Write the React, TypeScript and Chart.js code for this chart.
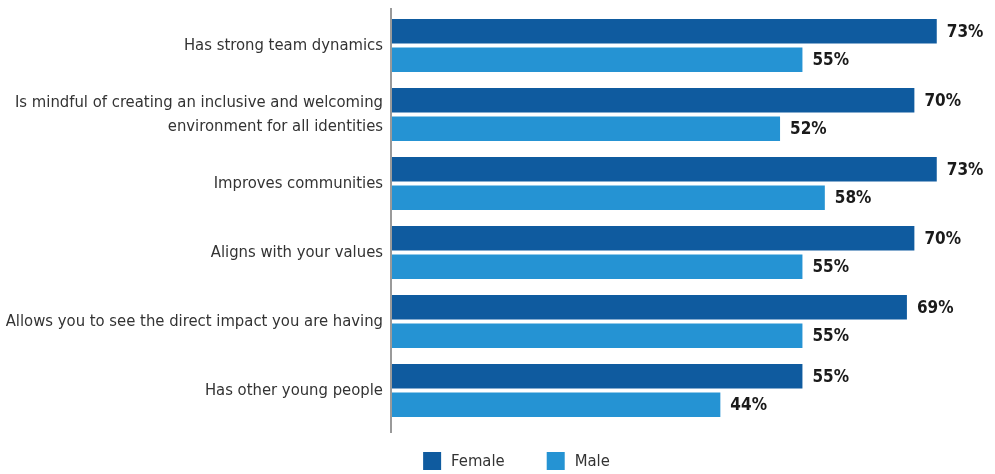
import React, { useEffect, useRef } from "react";
import { Chart, registerables } from "chart.js";

Chart.register(...registerables);

const categories: (string | string[])[] = [
  "Has strong team dynamics",
  ["Is mindful of creating an inclusive and welcoming", "environment for all identities"],
  "Improves communities",
  "Aligns with your values",
  "Allows you to see the direct impact you are having",
  "Has other young people",
];
const femaleValues = [73, 70, 73, 70, 69, 55];
const maleValues = [55, 52, 58, 55, 55, 44];
const seriesNames = ["Female", "Male"];
const seriesColors = ["#0f5b9f", "#2593d3"];

const FONT = "'DejaVu Sans Condensed', 'Liberation Sans', Arial, sans-serif";

// Bold percentage labels just past the end of each bar
const valueLabels = {
  id: "valueLabels",
  afterDatasetsDraw(chart: any) {
    const ctx = chart.ctx;
    ctx.save();
    ctx.font = `bold 17px ${FONT}`;
    ctx.fillStyle = "#1a1a1a";
    ctx.textBaseline = "middle";
    ctx.textAlign = "left";
    chart.data.datasets.forEach((ds: any, i: number) => {
      const meta = chart.getDatasetMeta(i);
      meta.data.forEach((bar: any, j: number) => {
        ctx.fillText(`${ds.data[j]}%`, bar.x + 10, bar.y + 1);
      });
    });
    ctx.restore();
  },
};

// Vertical axis rule on the left edge of the plot
const axisRule = {
  id: "axisRule",
  afterDatasetsDraw(chart: any) {
    const { ctx, chartArea } = chart;
    ctx.save();
    ctx.strokeStyle = "#9a9a9a";
    ctx.lineWidth = 2;
    ctx.beginPath();
    ctx.moveTo(chartArea.left - 1, chartArea.top - 3);
    ctx.lineTo(chartArea.left - 1, chartArea.bottom + 8);
    ctx.stroke();
    ctx.restore();
  },
};

// Legend row under the plot
const bottomLegend = {
  id: "bottomLegend",
  afterDraw(chart: any) {
    const ctx = chart.ctx;
    ctx.save();
    ctx.font = `16.5px ${FONT}`;
    ctx.textBaseline = "middle";
    ctx.textAlign = "left";
    const box = 18;
    const gap = 10;
    const spacing = 42;
    const items = chart.data.datasets.map((ds: any) => ({
      label: ds.label,
      color: ds.backgroundColor,
      w: ctx.measureText(ds.label).width,
    }));
    const total = items.reduce((s: number, it: any) => s + box + gap + it.w, 0) + spacing * (items.length - 1);
    let x = chart.width / 2 + 19 - total / 2;
    const cy = chart.chartArea.bottom + 36;
    items.forEach((it: any) => {
      ctx.fillStyle = it.color;
      ctx.fillRect(x, cy - box / 2, box, box);
      ctx.fillStyle = "#333333";
      ctx.fillText(it.label, x + box + gap, cy + 1);
      x += box + gap + it.w + spacing;
    });
    ctx.restore();
  },
};

export default function App() {
  const canvasRef = useRef<HTMLCanvasElement | null>(null);

  useEffect(() => {
    document.body.style.margin = "0";
    const canvas = canvasRef.current;
    if (!canvas) return;
    const chart = new Chart(canvas, {
      type: "bar",
      data: {
        labels: categories,
        datasets: [
          { label: seriesNames[0], data: femaleValues, backgroundColor: seriesColors[0] },
          { label: seriesNames[1], data: maleValues, backgroundColor: seriesColors[1] },
        ],
      },
      options: {
        indexAxis: "y",
        animation: false,
        responsive: false,
        maintainAspectRatio: false,
        layout: { padding: { top: 11, bottom: 49, right: 6, left: 0 } },
        datasets: {
          bar: { categoryPercentage: 0.823, barPercentage: 0.86 },
        },
        scales: {
          x: { display: false, min: 0, max: 80 },
          y: {
            grid: { display: false, drawTicks: false },
            border: { display: false },
            ticks: {
              color: "#333333",
              padding: 9,
              font: { family: FONT, size: 16.5, lineHeight: 1.45 },
            },
            afterFit(scale: any) {
              scale.width = 392;
              scale.paddingTop = 0;
              scale.paddingBottom = 0;
            },
          },
        },
        plugins: {
          legend: { display: false },
          tooltip: { enabled: false },
        },
      },
      plugins: [valueLabels, axisRule, bottomLegend],
    });
    return () => chart.destroy();
  }, []);

  return (
    <div style={{ width: 995, height: 474, background: "#ffffff" }}>
      <canvas ref={canvasRef} width={995} height={474} />
    </div>
  );
}
